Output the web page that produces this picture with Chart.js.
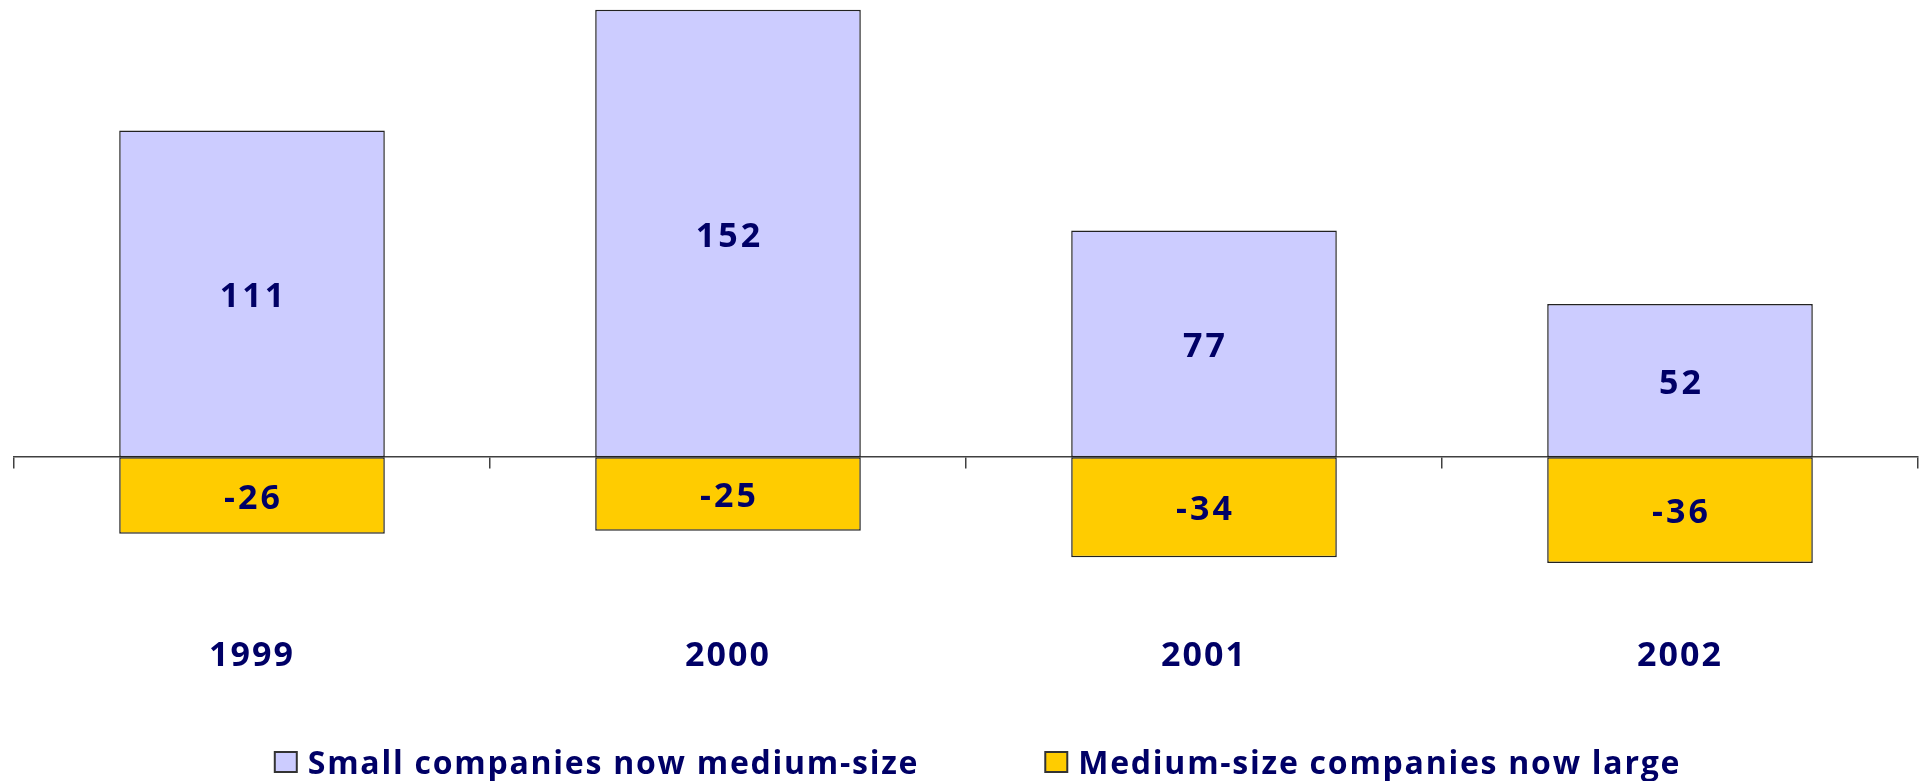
<!DOCTYPE html>
<html>
<head>
<meta charset="utf-8">
<script src="https://cdn.jsdelivr.net/npm/chart.js@4.4.0/dist/chart.umd.min.js"></script>
<style>
  html, body { margin: 0; padding: 0; background: #fff; }
  #wrap { width: 1919px; height: 781px; }
</style>
</head>
<body>
<div id="wrap"><canvas id="grafik"></canvas></div>
<script>
const years = ['1999', '2000', '2001', '2002'];
const smallToMedium = [111, 152, 77, 52];
const mediumToLarge = [-26, -25, -34, -36];
const seriesNames = ['Small companies now medium-size', 'Medium-size companies now large'];
const seriesColors = ['#CCCCFF', '#FFCC00'];
const yMin = -60, yMax = 155;

const navy = '#000066';
const fontFam = "'Open Sans', 'DejaVu Sans', sans-serif";

// numbers in the middle of each bar
const barValues = {
  id: 'barValues',
  afterDatasetsDraw(chart) {
    const ctx = chart.ctx;
    ctx.save();
    ctx.font = 'bold 34px ' + fontFam;
    ctx.letterSpacing = '3px';
    ctx.fillStyle = navy;
    ctx.textAlign = 'center';
    ctx.textBaseline = 'middle';
    chart.data.datasets.forEach((ds, i) => {
      chart.getDatasetMeta(i).data.forEach((bar, j) => {
        ctx.fillText(String(ds.data[j]), bar.x + 1.5, (bar.y + bar.base) / 2 + 3.5);
      });
    });
    ctx.restore();
  }
};

// legend at the bottom, wide gap between the two entries like the original
const bottomLegend = {
  id: 'bottomLegend',
  afterDraw(chart) {
    const ctx = chart.ctx;
    ctx.save();
    ctx.font = 'bold 32px ' + fontFam;
    ctx.letterSpacing = '1.75px';
    const box = 22, boxGap = 11, itemGap = 126, y = 762;
    const items = chart.data.datasets.map(ds => ({
      text: ds.label,
      color: ds.backgroundColor,
      w: box + boxGap + ctx.measureText(ds.label).width
    }));
    const total = items.reduce((s, it) => s + it.w, 0) + itemGap * (items.length - 1);
    let x = 978 - total / 2;
    items.forEach(it => {
      ctx.fillStyle = it.color;
      ctx.fillRect(x, y - 10, box, 20);
      ctx.strokeStyle = '#333';
      ctx.lineWidth = 2;
      ctx.strokeRect(x, y - 10, box, 20);
      ctx.fillStyle = navy;
      ctx.textAlign = 'left';
      ctx.textBaseline = 'middle';
      ctx.fillText(it.text, x + box + boxGap, y + 3);
      x += it.w + itemGap;
    });
    ctx.restore();
  }
};

const spacing = {
  id: 'spacing',
  beforeDraw(chart) { chart.ctx.letterSpacing = '2px'; }
};

new Chart(document.getElementById('grafik'), {
  type: 'bar',
  data: {
    labels: years,
    datasets: [
      {
        label: seriesNames[0],
        data: smallToMedium,
        backgroundColor: seriesColors[0],
        borderColor: '#222',
        borderWidth: 1.5,
        borderSkipped: false,
        barPercentage: 0.558,
        categoryPercentage: 1
      },
      {
        label: seriesNames[1],
        data: mediumToLarge,
        backgroundColor: seriesColors[1],
        borderColor: '#222',
        borderWidth: 1.5,
        borderSkipped: false,
        barPercentage: 0.558,
        categoryPercentage: 1
      }
    ]
  },
  options: {
    responsive: true,
    maintainAspectRatio: false,
    animation: false,
    layout: { padding: { top: 1, left: 14, right: 1, bottom: 110.5 } },
    plugins: {
      legend: { display: false },
      tooltip: { enabled: false }
    },
    scales: {
      x: {
        stacked: true,
        grid: { display: false },
        border: { display: false },
        ticks: {
          color: navy,
          font: { family: fontFam, size: 34, weight: 'bold' },
          padding: -6,
          maxRotation: 0
        }
      },
      x0: {
        type: 'category',
        position: { y: 0 },
        offset: true,
        grid: { offset: true, drawOnChartArea: false, tickLength: 11, color: '#404040', lineWidth: 1.5 },
        border: { color: '#404040', width: 1.5 },
        ticks: { display: false }
      },
      y: {
        stacked: true,
        min: yMin,
        max: yMax,
        display: false
      }
    }
  },
  plugins: [spacing, barValues, bottomLegend]
});
</script>
</body>
</html>
